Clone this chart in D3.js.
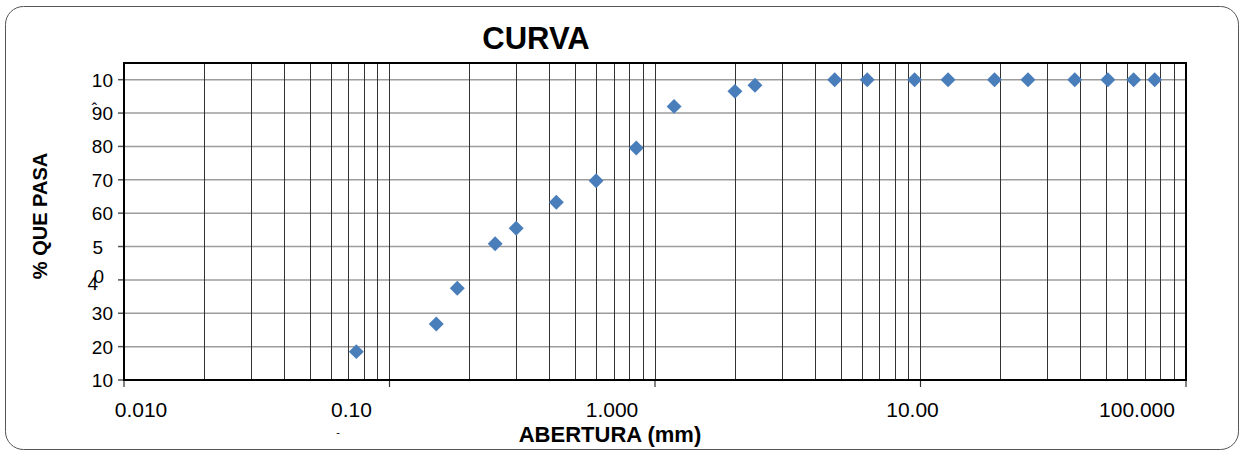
<!DOCTYPE html>
<html>
<head>
    <meta charset="utf-8" />
    <title>CURVA</title>
    <script src="https://cdn.jsdelivr.net/npm/d3@7"></script>
    <style>
        body { margin: 0; background: #fff; }
        svg text { font-family: "Liberation Sans", Arial, sans-serif; fill: #000; }
        .grid-y line { stroke: #9c9c9c; stroke-width: 1.5px; }
        .grid-x line { stroke: #333; stroke-width: 1px; }
    </style>
</head>
<body>
    <svg width="1245" height="452"></svg>
    <script>
        // sieve openings (mm) and % passing
        var sizes = [0.075, 0.15, 0.18, 0.25, 0.30, 0.425, 0.60, 0.85, 1.18, 2.00, 2.38,
                     4.75, 6.3, 9.5, 12.7, 19.0, 25.4, 38.1, 50.8, 63.5, 76.2];
        var passing = [18.5, 26.8, 37.5, 50.8, 55.5, 63.3, 69.7, 79.5, 92.0, 96.5, 98.3,
                       100, 100, 100, 100, 100, 100, 100, 100, 100, 100];

        var xTicks = [0.01, 0.1, 1, 10, 100];
        var xTickLabels = ["0.010", "0.10", "1.000", "10.00", "100.000"];
        var yTicks = [10, 20, 30, 40, 50, 60, 70, 80, 90, 100];
        var yTickLabels = ["10", "20", "30", "4", "5", "60", "70", "80", "90", "10"];

        var svg = d3.select('svg');
        var m = { left: 124, top: 63, right: 1186, bottom: 380 };

        var x = d3.scaleLog().domain([0.01, 100]).range([m.left, m.right]);
        var y = d3.scaleLinear().domain([10, 105]).range([m.bottom, m.top]);

        // outer frame
        svg.append('rect')
            .attr('x', 5.5).attr('y', 6.5)
            .attr('width', 1233).attr('height', 443)
            .attr('rx', 18).attr('ry', 18)
            .attr('fill', 'none').attr('stroke', '#555').attr('stroke-width', 1);

        // horizontal grid
        svg.append('g').attr('class', 'grid-y')
            .selectAll('line').data(yTicks.slice(1)).enter().append('line')
            .attr('x1', m.left).attr('x2', m.right)
            .attr('y1', function (d) { return y(d); })
            .attr('y2', function (d) { return y(d); });

        // vertical grid (log minor ticks)
        svg.append('g').attr('class', 'grid-x')
            .selectAll('line').data(x.ticks()).enter().append('line')
            .attr('x1', function (d) { return Math.round(x(d)) + 0.5; })
            .attr('x2', function (d) { return Math.round(x(d)) + 0.5; })
            .attr('y1', m.top).attr('y2', m.bottom);

        // major x ticks below axis
        svg.append('g').selectAll('line').data(xTicks).enter().append('line')
            .attr('x1', function (d) { return x(d); })
            .attr('x2', function (d) { return x(d); })
            .attr('y1', m.bottom).attr('y2', m.bottom + 7)
            .attr('stroke', '#333').attr('stroke-width', 1.2);

        // y ticks left of axis
        svg.append('g').selectAll('line').data(yTicks).enter().append('line')
            .attr('x1', m.left - 6).attr('x2', m.left)
            .attr('y1', function (d) { return y(d); })
            .attr('y2', function (d) { return y(d); })
            .attr('stroke', '#555').attr('stroke-width', 1.5);

        // plot border
        svg.append('rect')
            .attr('x', m.left).attr('y', m.top)
            .attr('width', m.right - m.left).attr('height', m.bottom - m.top)
            .attr('fill', 'none').attr('stroke', '#000').attr('stroke-width', 2);

        // x tick labels (placed like the original export)
        var xLabelShift = [17, -38, -43, -8, -49];
        svg.append('g').selectAll('text').data(xTicks).enter().append('text')
            .attr('x', function (d, i) { return x(d) + xLabelShift[i]; })
            .attr('y', 417)
            .attr('text-anchor', 'middle')
            .style('font-size', '21px')
            .text(function (d, i) { return xTickLabels[i]; });

        // y tick labels
        var yLabelX = [113, 113, 113, 98, 103, 113, 113, 113, 113, 113];
        var yLabelDy = [0, 0, 0, 3, 0, 0, 0, 0, 0, 0];
        svg.append('g').selectAll('text').data(yTicks).enter().append('text')
            .attr('x', function (d, i) { return yLabelX[i]; })
            .attr('y', function (d, i) { return y(d) + 7 + yLabelDy[i]; })
            .attr('text-anchor', 'end')
            .style('font-size', '19px')
            .text(function (d, i) { return yTickLabels[i]; });
        // broken label leftovers
        svg.append('text').attr('x', 104).attr('y', y(40) + 3).attr('text-anchor', 'end')
            .style('font-size', '19px').text('0');
        svg.append('text').attr('x', 97).attr('y', y(90) + 2).attr('text-anchor', 'end')
            .style('font-size', '16px').text('ˆ');
        svg.append('text').attr('x', 338).attr('y', 436).attr('text-anchor', 'middle')
            .style('font-size', '11px').text('-');

        // points
        svg.append('g').selectAll('path').data(sizes).enter().append('path')
            .attr('d', d3.symbol().type(d3.symbolSquare).size(112))
            .attr('transform', function (d, i) {
                return 'translate(' + x(d) + ',' + y(passing[i]) + ') rotate(45)';
            })
            .attr('fill', '#4a7ebb');

        // titles
        svg.append('text').attr('x', 536).attr('y', 49).attr('text-anchor', 'middle')
            .style('font-size', '31px').style('font-weight', 'bold').text('CURVA');
        svg.append('text').attr('x', 610).attr('y', 442).attr('text-anchor', 'middle')
            .style('font-size', '22px').style('font-weight', 'bold').text('ABERTURA (mm)');
        svg.append('text')
            .attr('transform', 'translate(47,216) rotate(-90)')
            .attr('text-anchor', 'middle')
            .style('font-size', '20px').style('font-weight', 'bold').text('% QUE PASA');
    </script>
</body>
</html>
